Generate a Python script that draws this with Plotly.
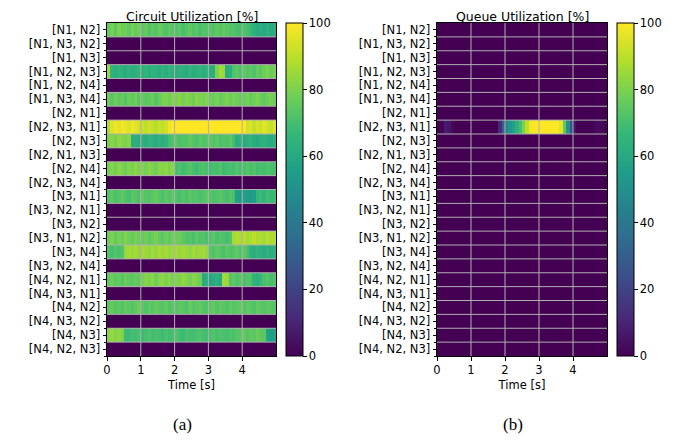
import plotly.graph_objects as go

# ---------------- data ----------------
path_labels = ["[N1, N2]", "[N1, N3, N2]", "[N1, N3]", "[N1, N2, N3]", "[N1, N2, N4]",
               "[N1, N3, N4]", "[N2, N1]", "[N2, N3, N1]", "[N2, N3]", "[N2, N1, N3]",
               "[N2, N4]", "[N2, N3, N4]", "[N3, N1]", "[N3, N2, N1]", "[N3, N2]",
               "[N3, N1, N2]", "[N3, N4]", "[N3, N2, N4]", "[N4, N2, N1]", "[N4, N3, N1]",
               "[N4, N2]", "[N4, N3, N2]", "[N4, N3]", "[N4, N2, N3]"]

# time bin edges [s] (0.1 s bins)
time_edges = [round(0.1 * i, 1) for i in range(51)]
x_ticks = [0, 1, 2, 3, 4]
cbar_ticks = [0, 20, 40, 60, 80, 100]

# circuit utilization [%] per path, one value per 0.1 s bin
circ_N1_N2 = [76, 79, 74, 80, 77, 78, 75, 79, 76, 78,
              74, 76, 72, 75, 73, 77, 74, 72, 75, 73,
              72, 74, 71, 73, 75, 72, 74, 71, 73, 72,
              74, 72, 75, 73, 76, 74, 72, 73, 71, 70,
              72, 70, 68, 63, 61, 62, 60, 63, 61, 62]
circ_N1_N2_N3 = [85, 64, 62, 65, 63, 61, 64, 62, 63, 65,
                 63, 65, 62, 64, 63, 61, 64, 62, 65, 63,
                 62, 64, 63, 61, 64, 62, 63, 65, 62, 64,
                 63, 62, 80, 86, 85, 62, 63, 72, 74, 71,
                 75, 73, 74, 72, 76, 74, 78, 80, 77, 79]
circ_N1_N3_N4 = [77, 74, 78, 75, 76, 73, 77, 75, 78, 74,
                 76, 74, 75, 77, 73, 76, 79, 80, 78, 81,
                 80, 82, 79, 81, 80, 78, 82, 80, 79, 81,
                 78, 77, 79, 76, 78, 80, 77, 79, 78, 76,
                 77, 79, 76, 78, 80, 77, 75, 78, 79, 77]
circ_N2_N3_N1 = [88, 95, 98, 96, 99, 97, 95, 98, 96, 94,
                 92, 90, 93, 91, 89, 92, 90, 93, 98, 100,
                 100, 100, 100, 100, 100, 100, 100, 100, 100, 100,
                 100, 100, 100, 100, 100, 100, 100, 100, 100, 100,
                 100, 93, 95, 91, 94, 92, 96, 93, 91, 95]
circ_N2_N3 = [80, 82, 79, 83, 81, 80, 82, 62, 63, 61,
              64, 62, 65, 63, 61, 64, 62, 65, 70, 72,
              74, 71, 73, 72, 75, 73, 71, 74, 72, 73,
              75, 72, 74, 71, 73, 72, 74, 70, 62, 64,
              61, 63, 65, 62, 60, 63, 64, 62, 61, 63]
circ_N2_N4 = [79, 81, 78, 82, 80, 77, 81, 79, 83, 80,
              81, 79, 82, 80, 78, 82, 81, 83, 80, 82,
              70, 72, 69, 71, 73, 70, 68, 71, 72, 70,
              69, 71, 70, 72, 68, 70, 71, 69, 72, 70,
              71, 73, 70, 72, 69, 71, 70, 72, 71, 70]
circ_N3_N1 = [72, 74, 71, 73, 75, 72, 70, 74, 73, 71,
              75, 73, 72, 74, 76, 73, 71, 74, 72, 75,
              72, 70, 73, 71, 74, 72, 73, 71, 72, 74,
              73, 71, 72, 74, 72, 70, 73, 71, 56, 54,
              57, 55, 53, 56, 66, 68, 65, 69, 67, 68]
circ_N3_N1_N2 = [78, 80, 76, 79, 77, 81, 78, 76, 79, 77,
                 76, 78, 75, 77, 79, 76, 74, 77, 75, 78,
                 77, 78, 75, 72, 73, 71, 74, 72, 73, 71,
                 72, 74, 71, 73, 72, 70, 73, 86, 88, 87,
                 89, 86, 88, 90, 87, 88, 86, 89, 87, 88]
circ_N3_N4 = [72, 70, 73, 71, 72, 84, 86, 85, 87, 84,
              86, 85, 83, 86, 84, 87, 85, 86, 84, 85,
              87, 84, 86, 85, 83, 86, 84, 85, 86, 84,
              74, 72, 75, 73, 71, 74, 72, 73, 75, 72,
              74, 71, 64, 62, 65, 63, 61, 64, 62, 63]
circ_N4_N2_N1 = [75, 77, 74, 76, 73, 77, 75, 74, 76, 75,
                 79, 81, 80, 82, 78, 81, 83, 80, 82, 79,
                 81, 80, 83, 81, 79, 82, 80, 78, 60, 62,
                 59, 61, 63, 60, 86, 85, 73, 75, 72, 74,
                 71, 73, 72, 65, 63, 66, 71, 73, 70, 72]
circ_N4_N2 = [74, 76, 73, 75, 72, 76, 74, 73, 75, 77,
              74, 72, 75, 73, 76, 74, 73, 75, 72, 74,
              73, 75, 74, 72, 76, 73, 74, 75, 73, 72,
              74, 76, 73, 75, 74, 72, 75, 73, 74, 76,
              73, 75, 74, 72, 76, 74, 73, 75, 74, 73]
circ_N4_N3 = [82, 84, 81, 83, 80, 68, 68, 70, 69, 71,
              68, 70, 72, 69, 71, 70, 68, 71, 69, 70,
              72, 70, 68, 71, 70, 69, 71, 72, 70, 69,
              71, 73, 70, 72, 71, 70, 72, 71, 73, 74,
              76, 73, 75, 74, 77, 75, 74, 58, 56, 57]

# queue utilization [%]
queue_N2_N3_N1 = [0, 1, 7, 6, 2, 0, 0, 0, 0, 0,
                  0, 0, 0, 0, 0, 0, 0, 0, 12, 30,
                  45, 52, 57, 63, 70, 80, 90, 98, 100, 100,
                  100, 100, 100, 100, 100, 100, 96, 75, 50, 25,
                  5, 0, 0, 0, 0, 0, 2, 3, 2, 1]

circuit_rows = {
    "[N1, N2]": circ_N1_N2, "[N1, N2, N3]": circ_N1_N2_N3, "[N1, N3, N4]": circ_N1_N3_N4,
    "[N2, N3, N1]": circ_N2_N3_N1, "[N2, N3]": circ_N2_N3, "[N2, N4]": circ_N2_N4,
    "[N3, N1]": circ_N3_N1, "[N3, N1, N2]": circ_N3_N1_N2, "[N3, N4]": circ_N3_N4,
    "[N4, N2, N1]": circ_N4_N2_N1, "[N4, N2]": circ_N4_N2, "[N4, N3]": circ_N4_N3,
}
queue_rows = {"[N2, N3, N1]": queue_N2_N3_N1}

nbins = len(time_edges) - 1
zeros = [0] * nbins
z_circ = [circuit_rows.get(lbl, zeros) for lbl in path_labels]
z_queue = [queue_rows.get(lbl, zeros) for lbl in path_labels]
row_idx = list(range(len(path_labels)))

# ---------------- figure ----------------
OFF = 8                      # page body margin of the browser
W, H = 688 - OFF, 442 - OFF
FONT = "DejaVu Sans"
TICK = 11.5

def px_x(p):
    return (p - OFF) / W

def px_y(p):
    return 1 - (p - OFF) / H

top, bottom = 23, 356
dom_y = [px_y(bottom), px_y(top)]
dom_x1 = [px_x(107), px_x(276)]
dom_x2 = [px_x(437), px_x(607)]

def cbar(xpix):
    return dict(
        x=px_x(xpix), xanchor="left", xref="paper",
        y=px_y(bottom), yanchor="bottom", yref="paper",
        len=(bottom - top) / H, lenmode="fraction",
        thickness=17, thicknessmode="pixels",
        xpad=0, ypad=0,
        outlinewidth=1, outlinecolor="black",
        tickvals=cbar_ticks, ticks="outside", ticklen=3.5, tickwidth=1, tickcolor="black",
        tickfont=dict(family=FONT, size=TICK, color="black"),
    )

fig = go.Figure()
fig.add_trace(go.Heatmap(
    z=z_circ, x=time_edges, y=row_idx, colorscale="Viridis", zmin=0, zmax=100,
    xaxis="x", yaxis="y", colorbar=cbar(286),
))
fig.add_trace(go.Heatmap(
    z=z_queue, x=time_edges, y=row_idx, colorscale="Viridis", zmin=0, zmax=100,
    xaxis="x2", yaxis="y2", colorbar=cbar(617),
))

def xaxis(dom, anchor):
    return dict(
        domain=dom, anchor=anchor, range=[time_edges[0], time_edges[-1]],
        tickvals=x_ticks, ticks="outside", ticklen=3.5, tickwidth=1, tickcolor="black",
        showline=True, linecolor="black", linewidth=1, mirror=True,
        showgrid=False, zeroline=False, automargin=False,
        tickfont=dict(family=FONT, size=TICK, color="black"),
        title=dict(text="Time [s]", font=dict(family=FONT, size=TICK, color="black"), standoff=4),
    )

def yaxis(anchor):
    return dict(
        domain=dom_y, anchor=anchor, range=[len(path_labels) - 0.5, -0.5],
        tickvals=row_idx, ticktext=path_labels,
        ticks="outside", ticklen=3.5, tickwidth=1, tickcolor="black",
        minor=dict(tickvals=[i + 0.5 for i in row_idx], ticks="outside", ticklen=2,
                   tickwidth=1, tickcolor="black", showgrid=False),
        showline=True, linecolor="black", linewidth=1, mirror=True,
        showgrid=False, zeroline=False, automargin=False,
        tickfont=dict(family=FONT, size=TICK, color="black"),
    )

fig.update_layout(
    width=W, height=H, margin=dict(l=0, r=0, t=0, b=0),
    paper_bgcolor="white", plot_bgcolor="white",
    font=dict(family=FONT, color="black"),
    xaxis=xaxis(dom_x1, "y"), yaxis=yaxis("x"),
    xaxis2=xaxis(dom_x2, "y2"), yaxis2=yaxis("x2"),
    showlegend=False,
)

# grid lines drawn over the heatmaps (matplotlib-style grid)
GRID = "#b0b0b0"
for xa, ya in (("x", "y"), ("x2", "y2")):
    for t in x_ticks[1:]:
        fig.add_shape(type="line", xref=xa, yref=f"{ya} domain", x0=t, x1=t, y0=0, y1=1,
                      line=dict(color=GRID, width=1), layer="above")
    for b in row_idx[:-1]:
        fig.add_shape(type="line", xref=f"{xa} domain", yref=ya, x0=0, x1=1, y0=b + 0.5, y1=b + 0.5,
                      line=dict(color=GRID, width=1), layer="above")

# titles and captions
for dom, text in ((dom_x1, "Circuit Utilization [%]"), (dom_x2, "Queue Utilization [%]")):
    fig.add_annotation(text=text, x=(dom[0] + dom[1]) / 2, y=1.0, xref="paper", yref="paper",
                       xanchor="center", yanchor="top", showarrow=False, borderpad=0,
                       font=dict(family=FONT, size=12.5, color="black"))
for xp, text in ((183, "(a)"), (513, "(b)")):
    fig.add_annotation(text=text, x=px_x(xp), y=px_y(424), xref="paper", yref="paper",
                       xanchor="center", yanchor="middle", showarrow=False,
                       font=dict(family="Liberation Serif", size=17, color="black"))

fig.write_html("out.html")
